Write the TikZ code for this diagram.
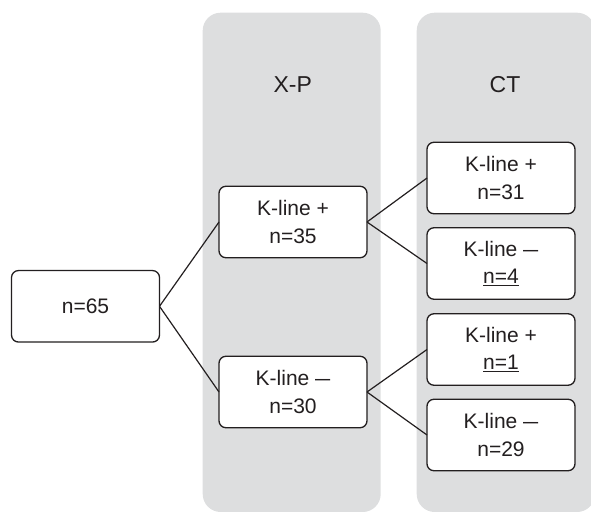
\documentclass[tikz,border=0pt]{standalone}
\usepackage{fontspec}
\setmainfont{Liberation Sans}
\usepackage{graphicx}
\usepackage{tikz}
\usetikzlibrary{positioning}
\definecolor{lanegray}{RGB}{221,222,223}
\definecolor{inkgray}{RGB}{35,31,32}
\newcommand{\kminus}{\scalebox{0.72}[1]{—}} % long minus after K-line
\tikzset{
x=1pt, y=-1pt, % pixel-like units, y runs downwards
node distance=14pt, % gap between stacked boxes
every node/.style={text=inkgray},
group/.style={draw=inkgray, line width=1.3pt, rounded corners=7pt, fill=white,
  outer sep=0pt, minimum width=148pt, minimum height=71.5pt, align=center,
  font=\fontsize{21}{27.3}\selectfont}, % sets the look of every box
lane/.style={fill=lanegray, rounded corners=18pt}, % grey column behind the boxes
title/.style={anchor=base, font=\fontsize{23}{27}\selectfont},
link/.style={draw=inkgray, line width=1.2pt}
}

\begin{document}
\begin{tikzpicture}
      \useasboundingbox (0,0) rectangle (591,511);
      \fill[lane] (202.7,12.7) rectangle (380.7,512);
      \fill[lane] (416.7,12.7) rectangle (595,512);
      \node[title] (xp) at (292.7,92.7) {X-P};
      \node[title] (ct) at (505,92.7) {CT};

      \node[group] (all) at (85.5,306.3) {n=65};
      \node[group, right=59.5pt of all, yshift=84.3pt] (xpplus) {K-line +\\n=35};
      \node[group, right=59.5pt of all, yshift=-85.7pt] (xpminus) {K-line \kminus\\n=30};
      \node[group, right=60pt of xpplus, yshift=44pt] (pp) {K-line +\\n=31};
      \node[group, below=of pp] (pm) {K-line \kminus\\\underline{n=4}};
      \node[group, right=60pt of xpminus, yshift=42.5pt] (mp) {K-line +\\\underline{n=1}};
      \node[group, below=of mp] (mm) {K-line \kminus\\n=29};

      \draw[link] (all.east) -- (xpplus.west)
      (all.east) -- (xpminus.west)
      (xpplus.east) -- (pp.west)
      (xpplus.east) -- (pm.west)
      (xpminus.east) -- (mp.west)
      (xpminus.east) -- (mm.west);
    \end{tikzpicture}
\end{document}
